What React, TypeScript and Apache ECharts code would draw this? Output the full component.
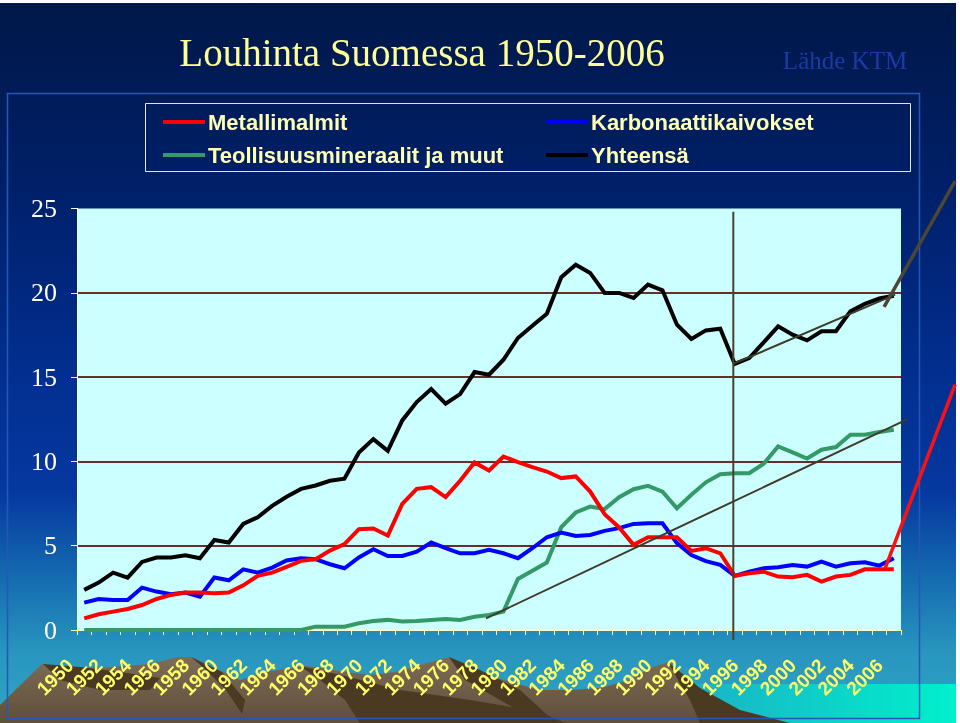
import React, { useEffect, useRef } from "react";
import * as echarts from "echarts";

const years = [
  "1950", "1951", "1952", "1953", "1954", "1955", "1956", "1957", "1958", "1959",
  "1960", "1961", "1962", "1963", "1964", "1965", "1966", "1967", "1968", "1969",
  "1970", "1971", "1972", "1973", "1974", "1975", "1976", "1977", "1978", "1979",
  "1980", "1981", "1982", "1983", "1984", "1985", "1986", "1987", "1988", "1989",
  "1990", "1991", "1992", "1993", "1994", "1995", "1996", "1997", "1998", "1999",
  "2000", "2001", "2002", "2003", "2004", "2005", "2006",
];

const metallimalmit = [
  0.69, 0.93, 1.09, 1.25, 1.48, 1.84, 2.08, 2.22, 2.22, 2.18,
  2.22, 2.65, 3.21, 3.4, 3.75, 4.1, 4.2, 4.71, 5.09, 5.98,
  6.02, 5.6, 7.48, 8.37, 8.47, 7.88, 8.85, 9.94, 9.46, 10.29,
  9.96, 9.66, 9.4, 9.01, 9.11, 8.21, 6.87, 6.08, 5.05, 5.5,
  5.5, 5.5, 4.69, 4.85, 4.55, 3.21, 3.37, 3.46, 3.17, 3.13,
  3.27, 2.87, 3.17, 3.27, 3.6, 3.6, 3.6,
];

const karbonaattikaivokset = [
  1.62, 1.84, 1.78, 1.78, 2.51, 2.28, 2.12, 2.22, 1.98, 3.11,
  2.95, 3.6, 3.4, 3.7, 4.12, 4.26, 4.2, 3.9, 3.66, 4.3,
  4.79, 4.39, 4.39, 4.65, 5.19, 4.85, 4.55, 4.55, 4.75, 4.55,
  4.26, 4.85, 5.5, 5.78, 5.58, 5.64, 5.88, 6.04, 6.29, 6.33,
  6.33, 5.15, 4.45, 4.08, 3.86, 3.21, 3.46, 3.66, 3.72, 3.86,
  3.76, 4.06, 3.76, 3.96, 4.02, 3.82, 4.26,
];

const teollisuusmineraalit = [
  0, 0, 0, 0, 0, 0, 0, 0, 0, 0,
  0, 0, 0, 0, 0, 0, 0.2, 0.2, 0.2, 0.4,
  0.53, 0.6, 0.5, 0.53, 0.6, 0.65, 0.6, 0.79, 0.89, 1.09,
  3.03, 3.52, 4.0, 6.1, 6.97, 7.32, 7.17, 7.88, 8.35, 8.55,
  8.21, 7.22, 8.02, 8.76, 9.24, 9.3, 9.3, 9.86, 10.89, 10.53,
  10.17, 10.69, 10.85, 11.58, 11.58, 11.74, 11.88,
];

const yhteensa = [
  2.38, 2.81, 3.4, 3.11, 4.04, 4.3, 4.3, 4.43, 4.26, 5.34,
  5.19, 6.29, 6.69, 7.36, 7.9, 8.37, 8.57, 8.85, 8.97, 10.53,
  11.32, 10.63, 12.43, 13.52, 14.29, 13.42, 13.99, 15.3, 15.14, 16.03,
  17.32, 18.05, 18.76, 20.92, 21.67, 21.18, 19.99, 19.99, 19.7, 20.49,
  20.15, 18.11, 17.26, 17.77, 17.87, 15.78, 16.13, 17.06, 18.01, 17.52,
  17.18, 17.72, 17.72, 18.9, 19.34, 19.66, 19.83,
];

// annotation lines drawn by hand on the slide, in data space [year, value]
const trendTeollisuus = [[1977.8, 0.69], [2006.96, 12.51]];
const trendYhteensa = [[1994.9, 15.78], [2006.09, 19.89]];
const steepYhteensa = [[2005.33, 19.16], [2010.24, 26.62]];
const steepMetallimalmit = [[2005.4, 3.66], [2010.24, 14.55]];
const markerLine = [[1994.9, 24.8], [1994.9, -0.6]];

const splitColors = ["rgba(0,0,0,0)", "#6a2c2c", "#6a2c2c", "#6a2c2c", "#6a2c2c", "rgba(0,0,0,0)"];

export default function App() {
  const ref = useRef<HTMLDivElement>(null);

  useEffect(() => {
    if (!ref.current) return;
    const chart = echarts.init(ref.current, null, { renderer: "svg" });

    const sans = "'Liberation Sans', Arial, sans-serif";
    const serif = "'Liberation Serif', 'Times New Roman', serif";

    const dataLine = (name: string, data: number[], color: string) => ({
      name,
      type: "line",
      data,
      symbol: "none",
      xAxisIndex: 0,
      yAxisIndex: 0,
      lineStyle: { color, width: 4, join: "miter" },
      itemStyle: { color },
      z: 3,
    });

    const legendText = {
      color: "#FFFFB3",
      fontSize: 22,
      fontWeight: "bold",
      fontFamily: sans,
      lineHeight: 22,
      padding: [0, 0, 0, -2],
    };

    const option: any = {
      animation: false,
      backgroundColor: "transparent",
      legend: [
        {
          left: 163,
          top: 111,
          padding: 0,
          orient: "vertical",
          itemGap: 11,
          itemWidth: 42,
          itemHeight: 4,
          icon: "rect",
          data: ["Metallimalmit", "Teollisuusmineraalit ja muut"],
          textStyle: legendText,
        },
        {
          left: 546,
          top: 111,
          padding: 0,
          orient: "vertical",
          itemGap: 11,
          itemWidth: 42,
          itemHeight: 4,
          icon: "rect",
          data: ["Karbonaattikaivokset", "Yhteensä"],
          textStyle: legendText,
        },
      ],
      grid: {
        left: 77,
        right: 59,
        top: 208.5,
        bottom: 93,
        show: true,
        backgroundColor: "#CCFFFF",
        borderWidth: 0,
        containLabel: false,
      },
      xAxis: [
        {
          type: "category",
          data: years,
          boundaryGap: true,
          axisLine: { show: true, lineStyle: { color: "#FFFFCC", width: 1 } },
          axisTick: { show: true, interval: 0, length: 5, lineStyle: { color: "#FFFF99", width: 1 } },
          axisLabel: {
            interval: 1,
            rotate: 45,
            margin: 18,
            padding: [0, 20, 0, 0],
            color: "#FFFF66",
            fontSize: 19,
            fontWeight: "bold",
            fontFamily: sans,
          },
          splitLine: { show: false },
        },
        {
          type: "value",
          min: 1949.5,
          max: 2006.5,
          show: false,
          splitLine: { show: false },
        },
      ],
      yAxis: {
        type: "value",
        min: 0,
        max: 25,
        interval: 5,
        axisLine: { show: true, lineStyle: { color: "#FFFFCC", width: 1 } },
        axisTick: { show: true, length: 6, lineStyle: { color: "#FFFFCC" } },
        axisLabel: { color: "#FFFFFF", fontSize: 26, fontFamily: serif, margin: 20 },
        splitLine: { show: true, lineStyle: { color: splitColors, width: 2 } },
      },
      series: [
        dataLine("Teollisuusmineraalit ja muut", teollisuusmineraalit, "#339966"),
        dataLine("Karbonaattikaivokset", karbonaattikaivokset, "#0000FF"),
        dataLine("Metallimalmit", metallimalmit, "#FF0000"),
        dataLine("Yhteensä", yhteensa, "#000000"),
      ],
    };

    chart.setOption(option);

    const finder = { xAxisIndex: 1, yAxisIndex: 0 };
    const toPx = (pts: number[][]) =>
      pts.map((p) => chart.convertToPixel(finder as any, p) as unknown as number[]);
    const annot = (pts: number[][], stroke: string, lineWidth: number) => ({
      type: "polyline",
      z: 10,
      silent: true,
      shape: { points: toPx(pts) },
      style: { stroke, lineWidth, fill: "none" },
    });

    const dark = "#4b3a22";
    chart.setOption({
      graphic: {
        elements: [
          { type: "rect", z: -3, silent: true, shape: { x: 0, y: 0, width: 960, height: 723 }, style: { fill: "#ffffff" } },
          {
            type: "rect",
            z: -3,
            silent: true,
            shape: { x: 0, y: 3, width: 956, height: 720 },
            style: {
              fill: new echarts.graphic.LinearGradient(0, 0, 0, 1, [
                { offset: 0, color: "#001848" },
                { offset: 0.25, color: "#001f68" },
                { offset: 0.5, color: "#022e8e" },
                { offset: 0.68, color: "#0538a0" },
                { offset: 0.8, color: "#156cb0" },
                { offset: 0.9, color: "#2895bf" },
                { offset: 1, color: "#30a6c4" },
              ]),
            },
          },
          {
            type: "rect",
            z: -2,
            silent: true,
            shape: { x: 690, y: 684, width: 266, height: 39 },
            style: {
              fill: new echarts.graphic.LinearGradient(0, 0, 1, 0, [
                { offset: 0, color: "#1ab2c6" },
                { offset: 1, color: "#00f0cc" },
              ]),
            },
          },
          {
            type: "polygon",
            z: -1,
            silent: true,
            shape: {
              points: [
                [0, 705], [42, 664], [62, 670], [82, 667], [100, 668], [125, 666], [150, 664],
                [178, 657], [191, 657], [215, 668], [240, 680], [265, 672], [290, 668], [308, 666],
                [322, 668], [345, 672], [370, 675], [395, 672], [420, 665], [449, 657], [470, 668],
                [492, 676], [510, 682], [540, 690], [570, 690], [600, 688], [630, 680], [650, 668],
                [668, 662], [685, 678], [700, 690], [720, 705], [745, 718], [760, 723], [0, 723],
              ],
            },
            style: {
              fill: new echarts.graphic.LinearGradient(0, 0, 0, 1, [
                { offset: 0, color: "#7d6c58" },
                { offset: 1, color: "#5f4e3a" },
              ]),
            },
          },
          {
            type: "polygon", z: -1, silent: true,
            shape: { points: [[43, 664], [80, 667], [120, 672], [160, 678], [150, 690], [100, 690], [60, 680]] },
            style: { fill: dark },
          },
          {
            type: "polygon", z: -1, silent: true,
            shape: { points: [[191, 657], [222, 672], [245, 700], [242, 714], [226, 690], [206, 670]] },
            style: { fill: dark },
          },
          {
            type: "polygon", z: -1, silent: true,
            shape: { points: [[300, 666], [345, 676], [400, 690], [470, 700], [540, 712], [565, 723], [360, 723], [345, 700], [320, 680]] },
            style: { fill: dark },
          },
          {
            type: "polygon", z: -1, silent: true,
            shape: { points: [[449, 657], [480, 670], [520, 690], [556, 723], [540, 723], [500, 700], [465, 680]] },
            style: { fill: dark },
          },
          {
            type: "polygon", z: -1, silent: true,
            shape: { points: [[668, 662], [700, 688], [740, 710], [790, 723], [700, 723], [690, 700], [678, 680]] },
            style: { fill: dark },
          },
          {
            type: "rect", z: -1, silent: true,
            shape: { x: 7.5, y: 93.5, width: 912, height: 625 },
            style: { fill: "none", stroke: "#2458b8", lineWidth: 1.5 },
          },
          {
            type: "rect", z: 1, silent: true,
            shape: { x: 145.5, y: 103.5, width: 765, height: 68 },
            style: { fill: "none", stroke: "#e8e8c8", lineWidth: 1 },
          },
          {
            type: "text", z: 1, silent: true,
            style: {
              x: 422, y: 52, text: "Louhinta Suomessa 1950-2006",
              fill: "#FFFF99", font: `39px ${serif}`, align: "center", verticalAlign: "middle",
            },
          },
          {
            type: "text", z: 1, silent: true,
            style: {
              x: 845, y: 60, text: "Lähde KTM",
              fill: "#1c3aa4", font: `25px ${serif}`, align: "center", verticalAlign: "middle",
            },
          },
          annot(trendTeollisuus, "#3f3a2a", 2),
          annot(trendYhteensa, "#3f3a2a", 2),
          annot(markerLine, "#4a3f28", 2),
          annot(steepYhteensa, "#4d4535", 3.5),
          annot(steepMetallimalmit, "#FF1010", 3.5),
        ],
      },
    });

    return () => chart.dispose();
  }, []);

  return (
    <div
      ref={ref}
      style={{ position: "fixed", left: 0, top: 0, width: 960, height: 723 }}
    />
  );
}
